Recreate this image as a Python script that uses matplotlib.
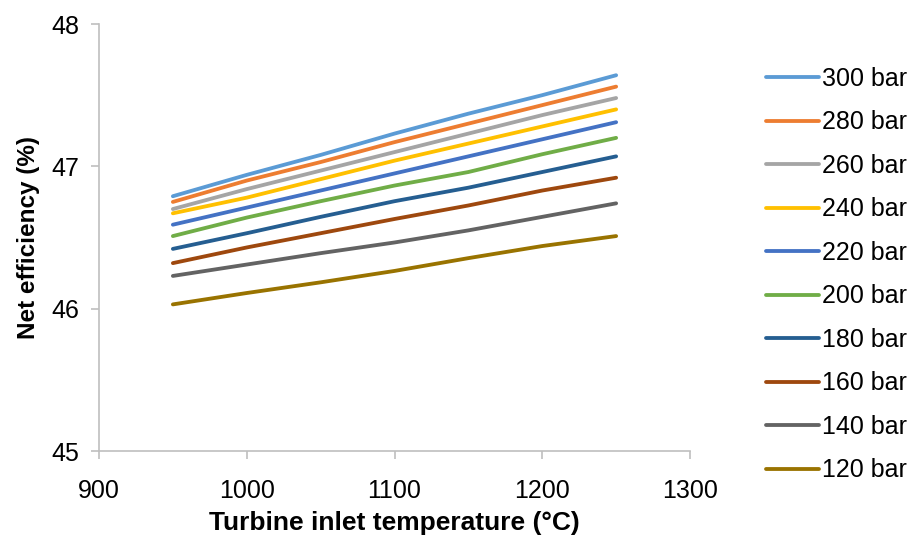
import matplotlib
matplotlib.use("Agg")
import matplotlib.pyplot as plt

plt.rcParams['font.family'] = ['Liberation Sans', 'DejaVu Sans']

# turbine inlet temperature (°C)
temperature = [950, 1000, 1050, 1100, 1150, 1200, 1250]

# net efficiency (%) per pressure level
pressures = ["300 bar", "280 bar", "260 bar", "240 bar", "220 bar",
             "200 bar", "180 bar", "160 bar", "140 bar", "120 bar"]
eff_300 = [46.79, 46.94, 47.08, 47.23, 47.37, 47.50, 47.64]
eff_280 = [46.75, 46.90, 47.03, 47.17, 47.30, 47.43, 47.56]
eff_260 = [46.70, 46.84, 46.97, 47.10, 47.23, 47.36, 47.48]
eff_240 = [46.67, 46.78, 46.91, 47.04, 47.16, 47.28, 47.40]
eff_220 = [46.59, 46.71, 46.83, 46.95, 47.07, 47.19, 47.31]
eff_200 = [46.51, 46.64, 46.755, 46.865, 46.96, 47.085, 47.20]
eff_180 = [46.42, 46.53, 46.645, 46.755, 46.85, 46.96, 47.07]
eff_160 = [46.32, 46.43, 46.53, 46.63, 46.725, 46.83, 46.92]
eff_140 = [46.23, 46.31, 46.39, 46.465, 46.55, 46.645, 46.74]
eff_120 = [46.03, 46.11, 46.185, 46.265, 46.355, 46.44, 46.51]

series = [eff_300, eff_280, eff_260, eff_240, eff_220,
          eff_200, eff_180, eff_160, eff_140, eff_120]
colors = ["#5B9BD5", "#ED7D31", "#A5A5A5", "#FFC000", "#4472C4",
          "#70AD47", "#255E91", "#9E480E", "#636363", "#997300"]

fig = plt.figure(figsize=(9.11, 5.35), dpi=100)
ax = fig.add_axes([99 / 911, 1 - 451 / 535, (690 - 99) / 911, (451 - 24) / 535])

for label, vals, c in zip(pressures, series, colors):
    ax.plot(temperature, vals, color=c, lw=2.75, label=label,
            solid_capstyle="round", solid_joinstyle="round")

ax.set_xlim(900, 1300)
ax.set_ylim(45, 48)
ax.set_xticks([900, 1000, 1100, 1200, 1300])
ax.set_yticks([45, 46, 47, 48])

for side in ["top", "right"]:
    ax.spines[side].set_visible(False)
for side in ["left", "bottom"]:
    ax.spines[side].set_color("#BFBFBF")
    ax.spines[side].set_linewidth(1.2)
ax.tick_params(axis="both", colors="#BFBFBF", labelcolor="black",
               labelsize=18, length=6, width=1.2, direction="out")
ax.tick_params(axis="x", pad=14)
ax.tick_params(axis="y", pad=8)

ax.set_xlabel("Turbine inlet temperature (°C)", fontsize=19,
              fontweight="bold", labelpad=6)
ax.set_ylabel("Net efficiency (%)", fontsize=17.5, fontweight="bold",
              labelpad=8)

fig.legend(loc="upper left", bbox_to_anchor=(756 / 911, 1 - 57 / 535),
           frameon=False, fontsize=18, handlelength=2.1,
           handletextpad=0.15, labelspacing=0.78, borderaxespad=0)

fig.savefig("out.png", dpi=100)
